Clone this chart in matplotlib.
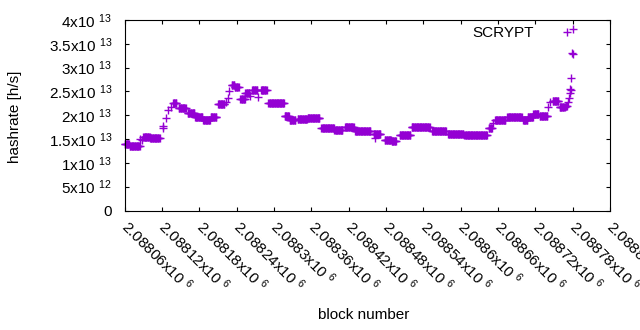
import numpy as np
import matplotlib
matplotlib.use("Agg")
import matplotlib.pyplot as plt

plt.rcParams['font.family'] = ['Liberation Sans', 'DejaVu Sans']
plt.rcParams['mathtext.fontset'] = 'custom'
plt.rcParams['mathtext.rm'] = 'Liberation Sans'
plt.rcParams['mathtext.it'] = 'Liberation Sans:italic'
plt.rcParams['mathtext.bf'] = 'Liberation Sans:bold'

# Runs of consecutive blocks sharing (approximately) one hashrate estimate
run_first_block = [2088060, 2088068, 2088085, 2088088, 2088090, 2088101, 2088121, 2088122,
                   2088127, 2088130, 2088134, 2088138, 2088147, 2088161, 2088173, 2088186,
                   2088198, 2088210, 2088223, 2088226, 2088228, 2088232, 2088237, 2088246,
                   2088254, 2088262, 2088265, 2088275, 2088279, 2088291, 2088317, 2088325,
                   2088338, 2088354, 2088376, 2088397, 2088414, 2088430, 2088462, 2088460,
                   2088478, 2088489, 2088502, 2088521, 2088554, 2088580, 2088606, 2088645,
                   2088652, 2088655, 2088675, 2088700, 2088708, 2088717, 2088727, 2088741,
                   2088743, 2088748, 2088759, 2088769, 2088773, 2088774, 2088775, 2088776,
                   2088777, 2088778, 2088779, 2088780, 2088781]
run_last_block = [2088067, 2088084, 2088085, 2088088, 2088100, 2088116, 2088121, 2088122,
                  2088127, 2088130, 2088134, 2088143, 2088158, 2088172, 2088185, 2088197,
                  2088207, 2088220, 2088223, 2088226, 2088228, 2088236, 2088243, 2088253,
                  2088260, 2088262, 2088273, 2088275, 2088288, 2088316, 2088324, 2088334,
                  2088353, 2088373, 2088396, 2088410, 2088428, 2088455, 2088462, 2088471,
                  2088488, 2088496, 2088519, 2088550, 2088576, 2088604, 2088642, 2088650,
                  2088652, 2088672, 2088698, 2088707, 2088716, 2088725, 2088739, 2088741,
                  2088743, 2088757, 2088767, 2088771, 2088773, 2088774, 2088775, 2088776,
                  2088777, 2088778, 2088779, 2088780, 2088781]
# hashrate in units of 1e13 h/s
run_hashrate = [1.39, 1.355, 1.50, 1.47, 1.545, 1.52, 1.78, 1.74,
                1.94, 2.12, 2.18, 2.25, 2.16, 2.04, 1.97, 1.90,
                1.96, 2.23, 2.28, 2.36, 2.50, 2.64, 2.59, 2.35,
                2.47, 2.40, 2.54, 2.38, 2.52, 2.25, 1.98, 1.91,
                1.92, 1.95, 1.73, 1.70, 1.75, 1.67, 1.52, 1.61,
                1.49, 1.46, 1.58, 1.75, 1.67, 1.61, 1.58, 1.73,
                1.84, 1.89, 1.96, 1.89, 1.97, 2.02, 1.98, 2.18,
                2.28, 2.29, 2.17, 2.20, 2.27, 2.37, 2.47, 2.56,
                2.53, 2.79, 3.30, 3.28, 3.81]

x_tick_values = [2088060, 2088120, 2088180, 2088240, 2088300, 2088360, 2088420,
                 2088480, 2088540, 2088600, 2088660, 2088720, 2088780, 2088840]
x_tick_mantissas = ["2.08806", "2.08812", "2.08818", "2.08824", "2.0883", "2.08836",
                    "2.08842", "2.08848", "2.08854", "2.0886", "2.08866", "2.08872",
                    "2.08878", "2.08884"]
y_tick_values = [0, 5e12, 1e13, 1.5e13, 2e13, 2.5e13, 3e13, 3.5e13, 4e13]
y_tick_labels = ["0", "5x10 $^{12}$", "1x10 $^{13}$", "1.5x10 $^{13}$", "2x10 $^{13}$",
                 "2.5x10 $^{13}$", "3x10 $^{13}$", "3.5x10 $^{13}$", "4x10 $^{13}$"]
series_label = "SCRYPT"

blocks = []
values = []
for first, last, h in zip(run_first_block, run_last_block, run_hashrate):
    for b in range(first, last + 1):
        blocks.append(b)
        values.append(h * 1e13)

W, H = 640, 330
fig = plt.figure(figsize=(W / 100, H / 100), dpi=100)
L, R, T, B = 124.7, 610.0, 20.0, 210.5
ax = fig.add_axes([L / W, 1 - B / H, (R - L) / W, (B - T) / H])

color = '#9400D3'
fs = 11
ax.plot(blocks, values, linestyle='none', marker='+', markersize=6.0,
        markeredgewidth=1.0, color=color, label=series_label, clip_on=False)

ax.set_xlim(2088060, 2088840)
ax.set_ylim(0, 4e13)
ax.set_xticks(x_tick_values)
ax.set_xticklabels([m + "x10 $^{6}$" for m in x_tick_mantissas], rotation=-45,
                   ha='left', va='center', rotation_mode='anchor', fontsize=fs)
ax.set_yticks(y_tick_values)
ax.set_yticklabels(y_tick_labels, fontsize=fs)

for s in ax.spines.values():
    s.set_linewidth(0.8)
    s.set_color('black')
ax.tick_params(direction='in', length=3.2, width=0.8, top=True, right=True,
               colors='black')
ax.tick_params(axis='y', pad=9)
ax.tick_params(axis='x', pad=9.5)

ax.set_ylabel('hashrate [h/s]', fontsize=fs, va='center')
ax.yaxis.set_label_coords((15 - L) / (R - L), (B - 117) / (B - T))
ax.set_xlabel('block number', fontsize=fs, va='center')
ax.xaxis.set_label_coords((364 - L) / (R - L), (B - 315) / (B - T))

ax.legend(loc='upper right', bbox_to_anchor=(0.942, 0.969), frameon=False,
          markerfirst=False, fontsize=fs, handlelength=2.0, handletextpad=1.14,
          borderaxespad=0, borderpad=0, numpoints=1)

fig.savefig('out.png', dpi=100)
